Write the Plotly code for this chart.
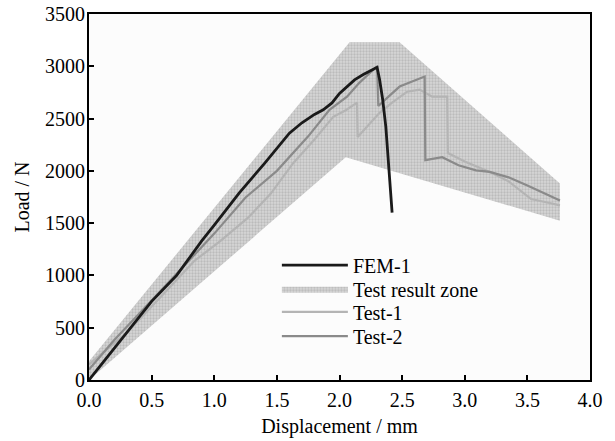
import plotly.graph_objects as go

# Test result zone (upper boundary, then lower boundary back to start)
zone_x = [0.0, 2.08, 2.48, 3.76, 3.76, 2.05, 0.0, 0.0]
zone_y = [180, 3230, 3230, 1880, 1523, 2130, 0, 180]

# FEM-1
fem_x = [0.0, 0.1, 0.25, 0.5, 0.7, 0.9, 1.0, 1.2, 1.4, 1.5, 1.6, 1.7, 1.8, 1.87,
         1.94, 2.0, 2.06, 2.12, 2.19, 2.25, 2.30, 2.32, 2.345, 2.37, 2.39, 2.42]
fem_y = [0, 150, 380, 752, 1000, 1330, 1480, 1790, 2070, 2220, 2360, 2460, 2540, 2584,
         2650, 2740, 2806, 2870, 2921, 2960, 2990, 2873, 2680, 2420, 2100, 1600]

# Test-1
t1_x = [0.0, 0.3, 0.6, 0.84, 1.05, 1.27, 1.45, 1.63, 1.8, 1.95, 2.05, 2.14, 2.145,
        2.2, 2.32, 2.42, 2.54, 2.64, 2.74, 2.86, 2.865, 3.0, 3.2, 3.35, 3.53, 3.65, 3.76]
t1_y = [150, 450, 830, 1138, 1330, 1552, 1780, 2073, 2300, 2517, 2580, 2652, 2324,
        2400, 2555, 2652, 2757, 2777, 2709, 2709, 2170, 2090, 1990, 1900, 1730, 1700, 1670]

# Test-2
t2_x = [0.0, 0.2, 0.5, 0.8, 1.0, 1.25, 1.5, 1.75, 1.92, 2.06, 2.16, 2.30, 2.31,
        2.40, 2.48, 2.58, 2.68, 2.685, 2.82, 2.95, 3.09, 3.2, 3.35, 3.5, 3.64, 3.76]
t2_y = [100, 380, 760, 1150, 1400, 1745, 2000, 2330, 2584, 2709, 2844, 3000, 2620,
        2720, 2806, 2854, 2902, 2102, 2131, 2054, 2005, 1990, 1938, 1860, 1784, 1716]

x_ticks = [0.0, 0.5, 1.0, 1.5, 2.0, 2.5, 3.0, 3.5, 4.0]
y_ticks = [0, 500, 1000, 1500, 2000, 2500, 3000, 3500]

FONT = "Liberation Serif, Times New Roman, serif"

fig = go.Figure()
fig.add_trace(go.Scatter(
    x=zone_x, y=zone_y, mode="lines", fill="toself", name="Test result zone",
    line=dict(width=0, color="rgba(0,0,0,0)"),
    fillcolor="#cdcdcd", legend="legend2", showlegend=True,
    fillpattern=dict(shape=".", fgcolor="#a0a0a0", bgcolor="#d6d6d6", size=3, solidity=0.45),
))
fig.add_trace(go.Scatter(x=t1_x, y=t1_y, mode="lines", name="Test-1", legend="legend3",
                         showlegend=True, line=dict(color="#b4b4b4", width=2.2)))
fig.add_trace(go.Scatter(x=t2_x, y=t2_y, mode="lines", name="Test-2", legend="legend4",
                         showlegend=True, line=dict(color="#8a8a8a", width=2.2)))
fig.add_trace(go.Scatter(x=fem_x, y=fem_y, mode="lines", name="FEM-1", legend="legend",
                         showlegend=True, line=dict(color="#1a1a1a", width=2.8)))


def leg(yc):
    return dict(x=0.375, y=yc, xanchor="left", yanchor="middle",
                bgcolor="rgba(255,255,255,0)", font=dict(size=20, family=FONT),
                itemwidth=66)


fig.update_layout(
    width=615, height=441, showlegend=True,
    margin=dict(l=89, r=25, t=14, b=61),
    paper_bgcolor="white", plot_bgcolor="#fcfcfc",
    font=dict(family=FONT, size=20, color="black"),
    legend=leg(0.314), legend2=leg(0.249), legend3=leg(0.186), legend4=leg(0.120),
    xaxis=dict(
        range=[0, 4.0], tickvals=x_ticks, ticktext=[f"{v:.1f}" for v in x_ticks],
        ticks="inside", ticklen=5, tickwidth=1.5, tickcolor="black",
        showline=True, linecolor="black", linewidth=2, mirror=True,
        showgrid=False, zeroline=False, automargin=False,
        tickfont=dict(size=20), ticklabelstandoff=1,
        title=dict(text="Displacement / mm", font=dict(size=20), standoff=9),
    ),
    yaxis=dict(
        range=[0, 3500], tickvals=y_ticks, ticktext=[str(v) for v in y_ticks],
        ticks="inside", ticklen=5, tickwidth=1.5, tickcolor="black",
        showline=True, linecolor="black", linewidth=2, mirror=True,
        showgrid=False, zeroline=False, automargin=False,
        tickfont=dict(size=20), ticklabelstandoff=-2,
        title=dict(text="Load / N", font=dict(size=20), standoff=10),
    ),
)

fig.write_html("out.html", config={"displayModeBar": False},
               post_script="document.body.style.margin='0';")
